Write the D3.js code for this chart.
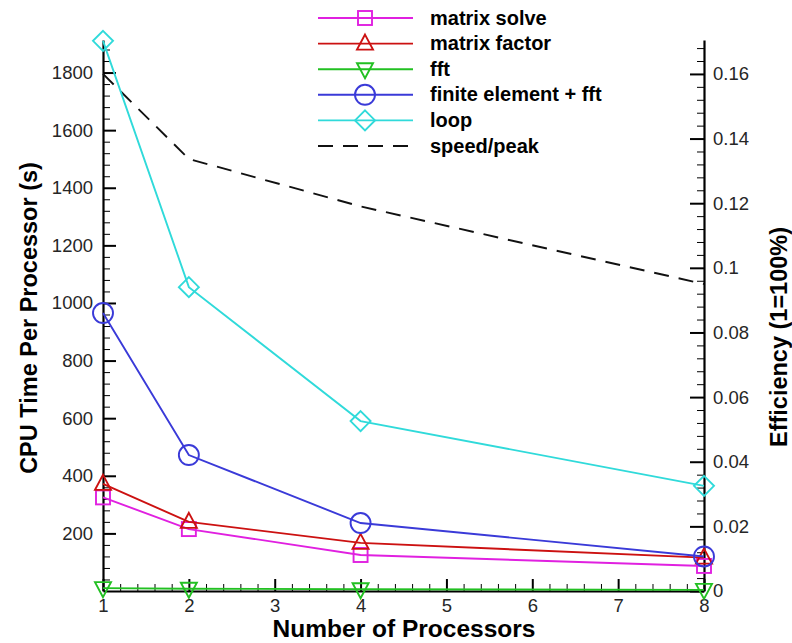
<!DOCTYPE html>
<html>
<head>
<meta charset="utf-8">
<script src="https://cdn.jsdelivr.net/npm/d3@7"></script>
<style>
  body { margin: 0; background: #fff; }
  text { font-family: "Liberation Sans", Arial, sans-serif; }
</style>
</head>
<body>
<script>
const width = 792;
const height = 643;

// data
const procs = [1, 2, 4, 8];
const matrixSolve = [325, 215, 125, 87];
const matrixFactor = [372, 240, 167, 116];
const fft = [10, 8, 6, 4];
const finiteElement = [965, 472, 236, 120];
const loop = [1910, 1055, 590, 365];
const speedPeak = [0.16, 0.1337, 0.119, 0.095];

const xTicks = [1, 2, 3, 4, 5, 6, 7, 8];
const leftTicks = [200, 400, 600, 800, 1000, 1200, 1400, 1600, 1800];
const rightTicks = [0, 0.02, 0.04, 0.06, 0.08, 0.1, 0.12, 0.14, 0.16];

const series = [
  { name: 'matrix solve', values: matrixSolve, color: '#e020e0', symbol: 'square' },
  { name: 'matrix factor', values: matrixFactor, color: '#cc1111', symbol: 'up' },
  { name: 'fft', values: fft, color: '#22c022', symbol: 'down' },
  { name: 'finite element + fft', values: finiteElement, color: '#3a3ad8', symbol: 'circle' },
  { name: 'loop', values: loop, color: '#30dada', symbol: 'diamond' }
];

const plotLeft = 103, plotRight = 704, plotTop = 40, plotBottom = 591;

const x = d3.scaleLinear().domain([1, 8]).range([plotLeft, plotRight]);
const y = d3.scaleLinear().domain([0, 1913]).range([plotBottom, plotTop]);
const y2 = d3.scaleLinear().domain([0, 0.1705]).range([plotBottom, plotTop]);

const svg = d3.select('body').append('svg')
  .attr('width', width)
  .attr('height', height);

// minor tick values
const xMinor = d3.range(1, 8.001, 0.2).filter(v => Math.abs(v - Math.round(v)) > 0.01);
const leftMinor = d3.range(40, 1913, 40).filter(v => v % 200 !== 0);
const rightMinor = d3.range(0.004, 0.1705, 0.004).filter(v => Math.abs(v / 0.02 - Math.round(v / 0.02)) > 0.01);

function styleAxis(g) {
  g.selectAll('.domain').attr('stroke', '#000').attr('stroke-width', 2.2);
  g.selectAll('.tick line').attr('stroke', '#000').attr('stroke-width', 2);
  g.selectAll('text').attr('font-size', 18.5).attr('fill', '#262626');
}

// x axis
svg.append('g')
  .attr('transform', `translate(0,${plotBottom})`)
  .call(d3.axisBottom(x).tickValues(xMinor).tickFormat('').tickSizeInner(-7).tickSizeOuter(0))
  .call(g => g.select('.domain').remove())
  .call(g => g.selectAll('line').attr('stroke', '#000').attr('stroke-width', 1));
svg.append('g')
  .attr('transform', `translate(0,${plotBottom})`)
  .call(d3.axisBottom(x).tickValues(xTicks).tickFormat(d3.format('d')).tickSizeInner(-12).tickSizeOuter(0).tickPadding(8))
  .call(styleAxis);

// left axis
svg.append('g')
  .attr('transform', `translate(${plotLeft},0)`)
  .call(d3.axisLeft(y).tickValues(leftMinor).tickFormat('').tickSizeInner(-7).tickSizeOuter(0))
  .call(g => g.select('.domain').remove())
  .call(g => g.selectAll('line').attr('stroke', '#000').attr('stroke-width', 1));
svg.append('g')
  .attr('transform', `translate(${plotLeft},0)`)
  .call(d3.axisLeft(y).tickValues(leftTicks).tickFormat(d3.format('d')).tickSizeInner(-13).tickSizeOuter(0).tickPadding(10))
  .call(styleAxis);

// right axis
svg.append('g')
  .attr('transform', `translate(${plotRight},0)`)
  .call(d3.axisRight(y2).tickValues(rightMinor).tickFormat('').tickSizeInner(-7).tickSizeOuter(0))
  .call(g => g.select('.domain').remove())
  .call(g => g.selectAll('line').attr('stroke', '#000').attr('stroke-width', 1));
svg.append('g')
  .attr('transform', `translate(${plotRight},0)`)
  .call(d3.axisRight(y2).tickValues(rightTicks).tickFormat(d => d === 0 ? '0' : String(+d.toFixed(2))).tickSizeInner(-14).tickSizeOuter(0).tickPadding(9))
  .call(styleAxis);

// axis titles
svg.append('text')
  .attr('transform', 'translate(37,318) rotate(-90)')
  .attr('text-anchor', 'middle')
  .attr('font-size', 23.5).attr('font-weight', 'bold')
  .text('CPU Time Per Processor (s)');
svg.append('text')
  .attr('transform', 'translate(787,337) rotate(-90)')
  .attr('text-anchor', 'middle')
  .attr('font-size', 23.5).attr('font-weight', 'bold')
  .text('Efficiency (1=100%)');
svg.append('text')
  .attr('x', 404)
  .attr('y', 637)
  .attr('text-anchor', 'middle')
  .attr('font-size', 24.5).attr('font-weight', 'bold')
  .text('Number of Processors');

// marker drawing
function drawMarker(g, symbol, color) {
  if (symbol === 'square') {
    g.append('rect').attr('x', -7).attr('y', -7).attr('width', 14).attr('height', 14);
  } else if (symbol === 'up') {
    g.append('path').attr('d', 'M0,-9L8,6L-8,6Z');
  } else if (symbol === 'down') {
    g.append('path').attr('d', 'M0,9L8,-6L-8,-6Z');
  } else if (symbol === 'circle') {
    g.append('circle').attr('r', 10);
  } else if (symbol === 'diamond') {
    g.append('path').attr('d', 'M0,-10L10,0L0,10L-10,0Z');
  }
  g.selectAll('*').attr('fill', 'none').attr('stroke', color).attr('stroke-width', 1.9);
}

const line = d3.line().x((d, i) => x(procs[i])).y(d => y(d));
const line2 = d3.line().x((d, i) => x(procs[i])).y(d => y2(d));

// speed/peak dashed
svg.append('path')
  .attr('d', line2(speedPeak))
  .attr('fill', 'none')
  .attr('stroke', '#111')
  .attr('stroke-width', 1.9)
  .attr('stroke-dasharray', '15,10');

series.forEach(s => {
  svg.append('path')
    .attr('d', line(s.values))
    .attr('fill', 'none')
    .attr('stroke', s.color)
    .attr('stroke-width', 1.9);
  s.values.forEach((v, i) => {
    const g = svg.append('g').attr('transform', `translate(${x(procs[i])},${y(v)})`);
    drawMarker(g, s.symbol, s.color);
  });
});

// legend
const legend = svg.append('g');
const legendRows = series.map(s => ({ name: s.name, color: s.color, symbol: s.symbol }))
  .concat([{ name: 'speed/peak', color: '#111', symbol: null }]);
legendRows.forEach((r, i) => {
  const ly = 18 + i * 25.6;
  legend.append('line')
    .attr('x1', 318).attr('x2', 413)
    .attr('y1', ly).attr('y2', ly)
    .attr('stroke', r.color)
    .attr('stroke-width', 1.9)
    .attr('stroke-dasharray', r.symbol ? null : '15,10');
  if (r.symbol) {
    const g = legend.append('g').attr('transform', `translate(365,${ly})`);
    drawMarker(g, r.symbol, r.color);
  }
  legend.append('text')
    .attr('x', 430).attr('y', ly + 6.5)
    .attr('font-size', 20).attr('font-weight', 'bold')
    .text(r.name);
});
</script>
</body>
</html>
